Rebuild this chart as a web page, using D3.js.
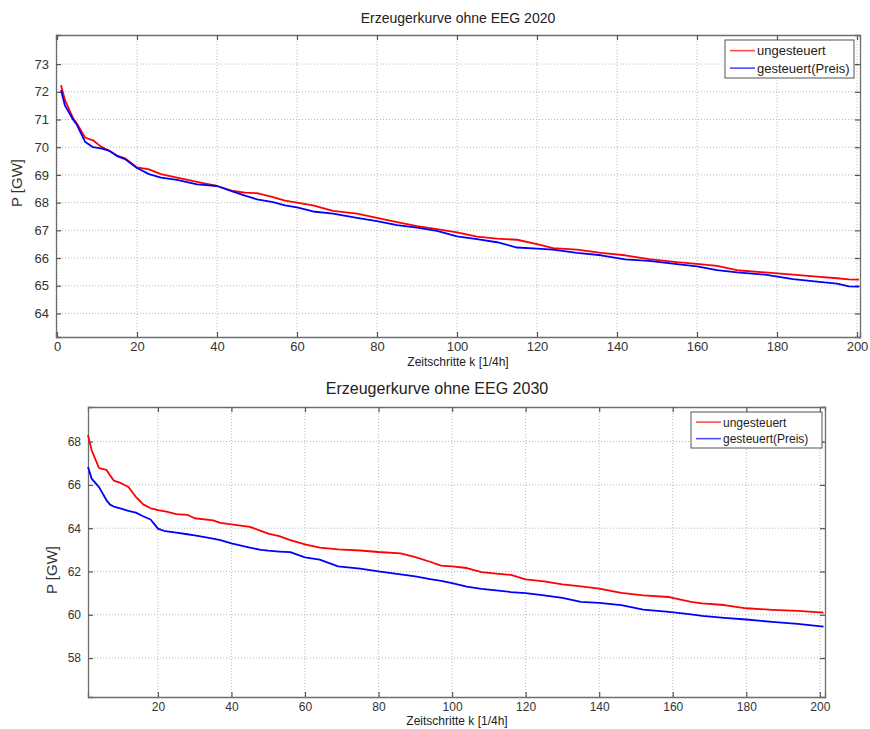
<!DOCTYPE html>
<html>
<head>
<meta charset="utf-8">
<script src="https://cdn.jsdelivr.net/npm/d3@7"></script>
<style>
  body { margin: 0; background: #fff; }
  svg { font-family: Arial, "Liberation Sans", sans-serif; }
</style>
</head>
<body>
<svg id="chart" width="870" height="729"></svg>
<script>
// data
const seriesNames = ["ungesteuert", "gesteuert(Preis)"];

const k2020 = [1, 2, 4, 5, 7, 9, 11, 13, 15, 17, 20, 23, 26, 30, 35, 40, 44, 47, 50, 54, 57, 60, 64, 69, 75, 80, 85, 90, 95, 100,
  105, 110, 115, 120, 124, 130, 136, 142, 148, 155, 160, 165, 170, 177, 184, 190, 195, 198, 200.5];
const red2020 = [72.24, 71.7, 71.05, 70.85, 70.35, 70.25, 70.02, 69.87, 69.7, 69.6, 69.27, 69.2, 69.03, 68.9, 68.75, 68.6, 68.42, 68.36, 68.34, 68.2,
  68.07, 68.0, 67.9, 67.7, 67.6, 67.45, 67.3, 67.15, 67.04, 66.93, 66.77, 66.7, 66.66, 66.5, 66.36, 66.3, 66.19, 66.1, 65.96, 65.85,
  65.79, 65.72, 65.56, 65.48, 65.4, 65.33, 65.27, 65.23, 65.22];
const blue2020 = [72.06, 71.5, 71.0, 70.8, 70.2, 70.0, 69.96, 69.88, 69.68, 69.57, 69.25, 69.03, 68.9, 68.82, 68.66, 68.6, 68.4, 68.25, 68.12, 68.02,
  67.9, 67.83, 67.68, 67.6, 67.45, 67.33, 67.19, 67.1, 66.98, 66.78, 66.68, 66.57, 66.38, 66.34, 66.3, 66.19, 66.1, 65.95, 65.9, 65.78,
  65.7, 65.56, 65.48, 65.4, 65.24, 65.15, 65.08, 64.98, 64.97];

const k2030 = [1, 2, 4, 6, 7, 8, 10, 12, 14, 16, 18, 19, 20, 22, 25, 28, 30, 35, 37, 40, 45, 48, 50, 53, 56, 60, 64, 69, 75, 80,
  86, 90, 94, 97, 100, 104, 108, 112, 116, 120, 125, 130, 135, 140, 146, 152, 159, 165, 168, 174, 180, 187, 194, 201];
const red2030 = [68.3, 67.6, 66.78, 66.7, 66.44, 66.2, 66.08, 65.9, 65.45, 65.1, 64.92, 64.88, 64.84, 64.78, 64.65, 64.62, 64.46, 64.36, 64.25, 64.18,
  64.06, 63.88, 63.75, 63.63, 63.45, 63.25, 63.1, 63.02, 62.97, 62.9, 62.84, 62.66, 62.45, 62.27, 62.24, 62.16, 61.97, 61.9, 61.84, 61.64,
  61.54, 61.4, 61.31, 61.21, 61.01, 60.9, 60.82, 60.6, 60.53, 60.45, 60.3, 60.23, 60.18, 60.1];
const blue2030 = [66.83, 66.29, 65.9, 65.3, 65.09, 65.0, 64.9, 64.8, 64.72, 64.55, 64.4, 64.2, 63.98, 63.86, 63.8, 63.72, 63.67, 63.52, 63.45, 63.3,
  63.1, 63.0, 62.96, 62.92, 62.89, 62.65, 62.55, 62.24, 62.13, 62.0, 61.87, 61.77, 61.65, 61.57, 61.46, 61.3, 61.2, 61.13, 61.05, 61.0,
  60.9, 60.78, 60.6, 60.55, 60.45, 60.24, 60.13, 60.02, 59.95, 59.86, 59.78, 59.67, 59.58, 59.45];

const xTicks2020 = [0, 20, 40, 60, 80, 100, 120, 140, 160, 180, 200];
const yTicks2020 = [64, 65, 66, 67, 68, 69, 70, 71, 72, 73];
const xTicks2030 = [20, 40, 60, 80, 100, 120, 140, 160, 180, 200];
const yTicks2030 = [58, 60, 62, 64, 66, 68];

const colors = ["#ff0000", "#0000ff"];
const svg = d3.select("#chart");

function drawPanel(p) {
  const x = d3.scaleLinear().domain(p.xDomain).range([p.left, p.right]);
  const y = d3.scaleLinear().domain(p.yDomain).range([p.bottom, p.top]);
  const g = svg.append("g");

  // dotted grid
  g.append("g").selectAll("line").data(p.xTicks).enter().append("line")
    .attr("x1", d => x(d)).attr("x2", d => x(d))
    .attr("y1", p.top).attr("y2", p.bottom)
    .attr("stroke", "#b8b8b8").attr("stroke-dasharray", "1,2");
  g.append("g").selectAll("line").data(p.yTicks).enter().append("line")
    .attr("x1", p.left).attr("x2", p.right)
    .attr("y1", d => y(d)).attr("y2", d => y(d))
    .attr("stroke", "#b8b8b8").attr("stroke-dasharray", "1,2");

  // axes with inward ticks, MATLAB style box
  const ax = (gen, tx, ty) => g.append("g")
    .attr("transform", "translate(" + tx + "," + ty + ")")
    .call(gen);
  const bottomAx = ax(d3.axisBottom(x).tickValues(p.xTicks).tickSize(-5).tickPadding(5).tickFormat(d3.format("d")), 0, p.bottom);
  const leftAx = ax(d3.axisLeft(y).tickValues(p.yTicks).tickSize(-5).tickPadding(7).tickFormat(d3.format("d")), p.left, 0);
  const topAx = ax(d3.axisTop(x).tickValues(p.xTicks).tickSize(-5).tickFormat(""), 0, p.top);
  const rightAx = ax(d3.axisRight(y).tickValues(p.yTicks).tickSize(-5).tickFormat(""), p.right, 0);
  [bottomAx, leftAx, topAx, rightAx].forEach(a => {
    a.select(".domain").attr("stroke", "#6e6e6e").attr("stroke-width", 1.3);
    a.selectAll(".tick line").attr("stroke", "#555").attr("stroke-width", 1.2);
    a.selectAll("text").attr("fill", "#333").attr("font-size", p.tickFont + "px");
  });

  // curves
  const line = d3.line().x(d => x(d[0])).y(d => y(d[1]));
  p.series.forEach((vals, i) => {
    g.append("path")
      .datum(p.k.map((kk, j) => [kk, vals[j]]))
      .attr("fill", "none")
      .attr("stroke", colors[i])
      .attr("stroke-width", 1.8)
      .attr("stroke-linejoin", "round")
      .attr("d", line);
  });

  // titles
  g.append("text").attr("x", p.titleX).attr("y", p.titleY)
    .attr("text-anchor", "middle").attr("font-size", p.titleFont + "px").attr("fill", "#222")
    .text(p.title);
  g.append("text").attr("x", p.xlabX).attr("y", p.xlabY)
    .attr("text-anchor", "middle").attr("font-size", "12px").attr("fill", "#222")
    .text("Zeitschritte k [1/4h]");
  g.append("text")
    .attr("transform", "translate(" + p.ylabX + "," + p.ylabY + ") rotate(-90)")
    .attr("text-anchor", "middle").attr("font-size", "15px").attr("fill", "#333")
    .text("P [GW]");

  // legend
  const lg = g.append("g").attr("transform", "translate(" + p.leg[0] + "," + p.leg[1] + ")");
  lg.append("rect").attr("width", p.leg[2]).attr("height", p.leg[3])
    .attr("fill", "#fff").attr("stroke", "#555").attr("stroke-width", 1);
  seriesNames.forEach((name, i) => {
    const yy = p.leg[3] * (0.28 + 0.46 * i);
    lg.append("line").attr("x1", 5).attr("x2", 30).attr("y1", yy).attr("y2", yy)
      .attr("stroke", colors[i]).attr("stroke-width", 1.6).attr("opacity", 0.7);
    lg.append("text").attr("x", 32).attr("y", yy + 4.5)
      .attr("font-size", p.legFont + "px").attr("fill", "#222").text(name);
  });
}

drawPanel({
  title: "Erzeugerkurve ohne EEG 2020", titleX: 458, titleY: 23, titleFont: 14,
  xlabX: 458, xlabY: 366, ylabX: 22, ylabY: 183,
  left: 56, right: 860, top: 35, bottom: 337,
  xDomain: [-0.25, 200.75], yDomain: [63.15, 74.05],
  xTicks: xTicks2020, yTicks: yTicks2020, tickFont: 13,
  k: k2020, series: [red2020, blue2020],
  leg: [725, 40, 129, 38], legFont: 13
});

drawPanel({
  title: "Erzeugerkurve ohne EEG 2030", titleX: 437, titleY: 394, titleFont: 16,
  xlabX: 457, xlabY: 725, ylabX: 57, ylabY: 570,
  left: 88, right: 825, top: 407, bottom: 697,
  xDomain: [1, 201.4], yDomain: [56.2, 69.6],
  xTicks: xTicks2030, yTicks: yTicks2030, tickFont: 12,
  k: k2030, series: [red2030, blue2030],
  leg: [691, 412, 131, 36], legFont: 12
});
</script>
</body>
</html>
